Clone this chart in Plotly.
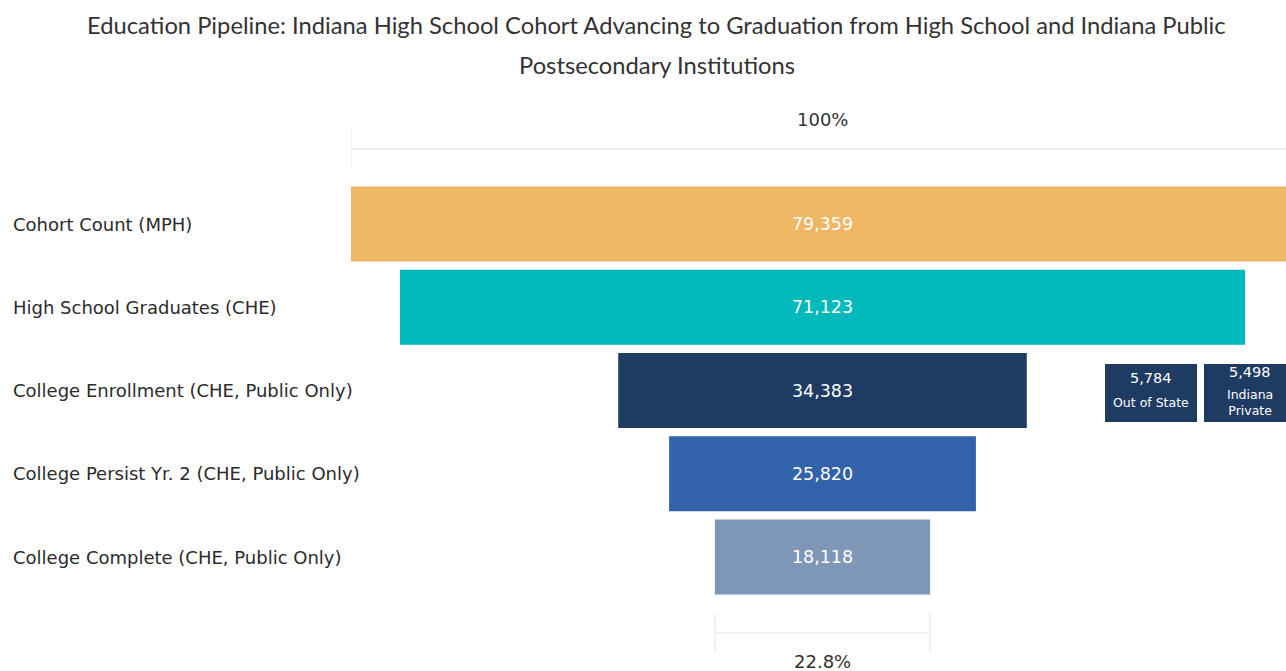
import plotly.graph_objects as go

# Pipeline stages (top to bottom) and their headcounts
stages = [
    "Cohort Count (MPH)",
    "High School Graduates (CHE)",
    "College Enrollment (CHE, Public Only)",
    "College Persist Yr. 2 (CHE, Public Only)",
    "College Complete (CHE, Public Only)",
]
counts = [79359, 71123, 34383, 25820, 18118]
stage_colors = ["#EFB663", "#00B9BB", "#1E3B62", "#3162AA", "#7F97B7"]

# Enrollment outside the public system, shown beside the enrollment stage
side_counts = [5784, 5498]
side_labels = ["Out of State", "Indiana<br>Private"]
side_color = "#1E3B62"

title_lines = [
    "Education Pipeline: Indiana High School Cohort Advancing to Graduation from High School and Indiana Public",
    "Postsecondary Institutions",
]

FONT = "DejaVu Sans, Verdana, sans-serif"

# ---- layout geometry (pixels) ----
W, H = 1286, 671
ML, MR, MT, MB = 351, 0, 107, 6
plot_w = W - ML - MR
plot_h = H - MT - MB
bar_px = 943            # on-screen width of the widest bar
row_px = 83.25          # distance between stage rows
first_row_px = 224      # centre of the first row from the top of the page

top = counts[0]
units_per_px = top / bar_px
x_lo = -top / 2
x_hi = x_lo + plot_w * units_per_px
y_top = -(first_row_px - MT) / row_px
y_bot = y_top + plot_h / row_px

ys = list(range(len(stages)))


def pct(v):
    s = f"{v / top * 100:.1f}"
    return (s[:-2] if s.endswith(".0") else s) + "%"


fig = go.Figure()
fig.add_trace(go.Bar(
    y=ys,
    x=counts,
    base=[-c / 2 for c in counts],
    orientation="h",
    width=0.9,
    marker=dict(color=stage_colors, line=dict(width=0)),
    text=[f"{c:,}" for c in counts],
    textposition="inside",
    insidetextanchor="middle",
    textfont=dict(family=FONT, size=17.5, color="white"),
    hovertemplate="%{customdata}: %{x:,}<extra></extra>",
    customdata=stages,
    cliponaxis=True,
))

shapes = []
annotations = []

# Range brackets above the first stage and below the last stage
bracket_color = "#F0F0F0"
half_h = 19 / row_px
last = len(counts) - 1
for value, yc, ytxt in [(counts[0], -0.9, -1.25), (counts[-1], last + 0.91, last + 1.26)]:
    x0, x1 = -value / 2, value / 2
    for xv in (x0, x1):
        shapes.append(dict(type="line", xref="x", yref="y", x0=xv, x1=xv,
                           y0=yc - half_h, y1=yc + half_h,
                           line=dict(color=bracket_color, width=2)))
    shapes.append(dict(type="line", xref="x", yref="y", x0=x0, x1=x1, y0=yc, y1=yc,
                       line=dict(color=bracket_color, width=2)))
    annotations.append(dict(x=0, y=ytxt, xref="x", yref="y", xanchor="center",
                            text=pct(value), showarrow=False,
                            font=dict(family=FONT, size=18, color="#333333")))

# Stage names, left aligned at the page edge
for name, yv in zip(stages, ys):
    annotations.append(dict(x=(11 - ML) / plot_w, y=yv, xref="paper", yref="y",
                            xanchor="left", text=name, showarrow=False,
                            font=dict(family=FONT, size=18, color="#2B2B2B")))

# Side boxes next to the enrollment stage
box_centres_px = [1151, 1250]
box_w, box_h = 92, 58
enroll_row = 2
for cnt, lab, cx in zip(side_counts, side_labels, box_centres_px):
    px = (cx - ML) / plot_w
    annotations.append(dict(x=px, y=enroll_row, xref="paper", yref="y", yshift=-2,
                            xanchor="center", yanchor="middle",
                            text=" ", showarrow=False, width=box_w, height=box_h,
                            bgcolor=side_color, borderpad=0, borderwidth=0))
    nlines = lab.count("<br>") + 1
    num_shift = 13 if nlines == 1 else 19
    lab_shift = -12 if nlines == 1 else -12
    annotations.append(dict(x=px, y=enroll_row, xref="paper", yref="y", yshift=num_shift,
                            xanchor="center", yanchor="middle",
                            text=f"{cnt:,}", showarrow=False,
                            font=dict(family=FONT, size=14.5, color="white")))
    annotations.append(dict(x=px, y=enroll_row, xref="paper", yref="y", yshift=lab_shift,
                            xanchor="center", yanchor="middle", align="center",
                            text=lab, showarrow=False,
                            font=dict(family=FONT, size=12.5, color="white")))

# Two-line title
title_cx = (656.5 - ML) / plot_w
for line, ypx in zip(title_lines, [25, 65]):
    annotations.append(dict(x=title_cx, y=1 + (MT - ypx) / plot_h, xref="paper", yref="paper",
                            text=line, showarrow=False, xanchor="center", yanchor="middle",
                            font=dict(family="Lato, sans-serif", size=23.75, color="#333333")))

fig.update_layout(
    width=W, height=H,
    margin=dict(l=ML, r=MR, t=MT, b=MB, pad=0),
    paper_bgcolor="white", plot_bgcolor="white",
    showlegend=False,
    xaxis=dict(range=[x_lo, x_hi], visible=False, fixedrange=True),
    yaxis=dict(range=[y_bot, y_top], visible=False, fixedrange=True),
    shapes=shapes,
    annotations=annotations,
)

fig.write_html("out.html", config={"displayModeBar": False})
